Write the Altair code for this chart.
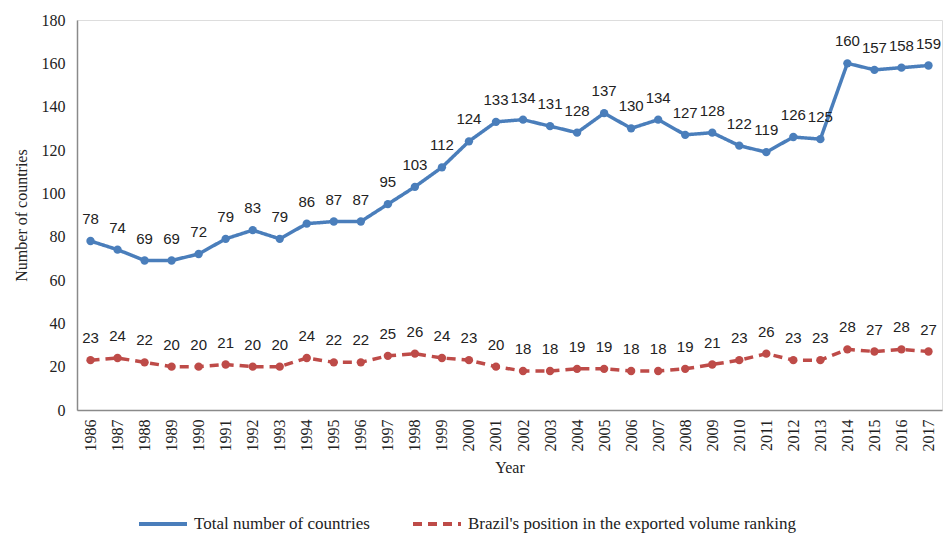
import altair as alt
import pandas as pd

years = [str(y) for y in range(1986, 2018)]
total_countries = [78, 74, 69, 69, 72, 79, 83, 79, 86, 87, 87, 95, 103, 112, 124, 133,
                   134, 131, 128, 137, 130, 134, 127, 128, 122, 119, 126, 125, 160, 157, 158, 159]
brazil_position = [23, 24, 22, 20, 20, 21, 20, 20, 24, 22, 22, 25, 26, 24, 23, 20,
                   18, 18, 19, 19, 18, 18, 19, 21, 23, 26, 23, 23, 28, 27, 28, 27]
series_names = ["Total number of countries", "Brazil's position in the exported volume ranking"]
series_colors = ["#4A7EBB", "#BE4B48"]
y_ticks = list(range(0, 181, 20))

rows = []
for i, yr in enumerate(years):
    rows.append({"Year": yr, "Value": total_countries[i], "Series": series_names[0]})
    rows.append({"Year": yr, "Value": brazil_position[i], "Series": series_names[1]})
df = pd.DataFrame(rows)

serif = "Liberation Serif"
sans = "Liberation Sans"

x = alt.X("Year:O", title="Year",
          scale=alt.Scale(type="point", padding=0.5),
          axis=alt.Axis(labelAngle=270, labelFont=serif, labelFontSize=16, labelColor="#222",
                        titleFont=serif, titleFontSize=16, titleFontWeight="normal", titleColor="#222",
                        ticks=False, labelPadding=9, titlePadding=8,
                        domainColor="#8a8a8a", domainWidth=1.5, grid=False))
y = alt.Y("Value:Q", title="Number of countries",
          scale=alt.Scale(domain=[0, 180], nice=False),
          axis=alt.Axis(values=y_ticks, labelFont=serif, labelFontSize=16, labelColor="#222",
                        titleFont=serif, titleFontSize=16, titleFontWeight="normal", titleColor="#222",
                        ticks=False, labelPadding=12, titlePadding=12,
                        domainColor="#8a8a8a", domainWidth=1.5, grid=False))
color = alt.Color("Series:N", title=None,
                  scale=alt.Scale(domain=series_names, range=series_colors),
                  legend=alt.Legend(orient="none", legendX=60, legendY=478, direction="horizontal",
                                    symbolType="stroke", symbolStrokeWidth=4, symbolSize=2304,
                                    labelFont=serif, labelFontSize=17, labelFontWeight="normal",
                                    labelColor="#222",
                                    columnPadding=35, labelOffset=5, labelLimit=500))
dash = alt.StrokeDash("Series:N", title=None,
                      scale=alt.Scale(domain=series_names, range=[[1, 0], [9, 6]]),
                      legend=None)

lines = alt.Chart(df).mark_line(strokeWidth=3.5).encode(x=x, y=y, color=color, strokeDash=dash)
points = alt.Chart(df).mark_circle(size=70, opacity=1).encode(
    x=x, y=y, color=alt.Color("Series:N", scale=alt.Scale(domain=series_names, range=series_colors), legend=None))
labels = alt.Chart(df).mark_text(font=sans, fontSize=15, color="#222", baseline="middle", dy=-22).encode(
    x=x, y=y, text="Value:Q")

chart = alt.layer(lines, points, labels).properties(
    width=865, height=390,
    autosize=alt.AutoSizeParams(type="none"),
    padding={"left": 77, "top": 20, "right": 2, "bottom": 124},
).configure_view(stroke=None).configure(background="white")

chart.save("out.html", embed_options={"renderer": "svg", "actions": False})
